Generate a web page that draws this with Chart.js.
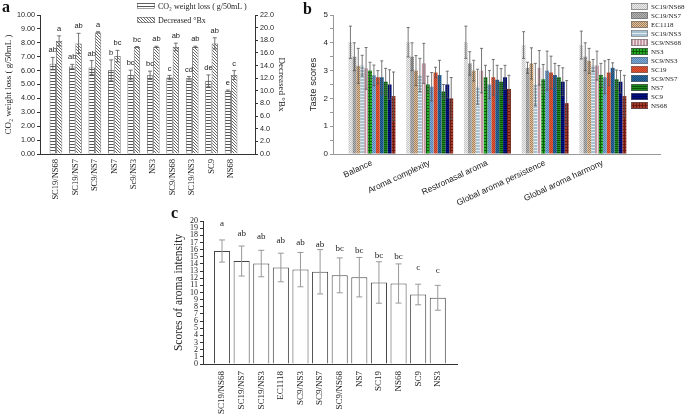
<!DOCTYPE html>
<html lang="en">
<head>
<meta charset="UTF-8">
<title>Fermentation kinetics and sensory scores</title>
<script src="https://cdn.jsdelivr.net/npm/chart.js@4.4.0/dist/chart.umd.min.js"></script>
<style>
    body {
        margin: 0;
        width: 685px;
        height: 419px;
        position: relative;
        overflow: hidden;
        background: #fff;
    }
    canvas {
        position: absolute;
    }
    .tag {
        position: absolute;
        font-family: 'Liberation Serif', serif;
        font-weight: bold;
        font-size: 16px;
        color: #111;
    }
</style>
</head>
<body>
<canvas id="chart-a" style="left:0;top:0" width="290" height="210"></canvas>
<canvas id="chart-b" style="left:300px;top:0" width="385" height="215"></canvas>
<canvas id="chart-c" style="left:165px;top:207px" width="300" height="212"></canvas>
<div class="tag" style="left:2px;top:-2px">a</div>
<div class="tag" style="left:303px;top:0">b</div>
<div class="tag" style="left:171px;top:204px">c</div>

<script>
// --- panel a: CO2 weight loss and decreased Brix ---
const strainsA = ['SC19/NS68', 'SC19/NS7', 'SC9/NS7', 'NS7', 'Sc9/NS3', 'NS3', 'SC9/NS68', 'SC19/NS3', 'SC9', 'NS68'];
const co2Loss = [6.50, 6.30, 6.22, 6.02, 5.68, 5.66, 5.50, 5.45, 5.27, 4.55];
const co2Err = [0.45, 0.15, 0.50, 0.75, 0.35, 0.30, 0.15, 0.12, 0.42, 0.05];
const co2Letters = ['ab', 'ab', 'ab', 'b', 'bc', 'bc', 'c', 'cd', 'de', 'e'];
const brixDrop = [17.9, 17.5, 19.25, 15.5, 16.95, 16.95, 16.95, 16.95, 17.5, 12.5];
const brixErr = [0.8, 1.6, 0.1, 0.9, 0.05, 0.1, 0.6, 0.1, 0.9, 0.7];
const brixLetters = ['a', 'ab', 'a', 'bc', 'bc', 'ab', 'ab', 'ab', 'ab', 'c'];
const co2Ticks = [0, 1, 2, 3, 4, 5, 6, 7, 8, 9, 10];
const brixTicks = [0, 2, 4, 6, 8, 10, 12, 14, 16, 18, 20, 22];

// --- panel b: taste scores per attribute ---
const attributes = ['Balance', 'Aroma complexity', 'Restronasal aroma', 'Global aroma persistence', 'Global aroma harmony'];
const strainsB = ['SC19/NS68', 'SC19/NS7', 'EC1118', 'SC19/NS3', 'SC9/NS68', 'NS3', 'SC9/NS3', 'SC19', 'SC9/NS7', 'NS7', 'SC9', 'NS68'];
const balance     = [4.02, 3.50, 3.17, 3.18, 3.08, 3.00, 2.83, 2.76, 2.76, 2.60, 2.50, 2.08];
const complexity  = [4.02, 3.50, 3.00, 2.84, 3.26, 2.50, 2.42, 2.93, 2.84, 2.25, 2.50, 2.00];
const restronasal = [4.02, 3.26, 3.00, 2.42, 3.00, 2.76, 2.50, 2.76, 2.67, 2.60, 2.76, 2.34];
const persistence = [3.92, 3.10, 3.26, 2.50, 3.10, 2.69, 3.00, 2.93, 2.84, 2.76, 2.60, 1.83];
const harmony     = [3.92, 3.50, 3.35, 3.18, 3.18, 2.84, 2.76, 2.93, 3.10, 2.69, 2.60, 2.08];
const balanceErr     = [0.58, 0.50, 0.63, 0.37, 0.75, 0.30, 0.37, 0.24, 0.59, 0.48, 0.53, 0.87];
const complexityErr  = [0.53, 0.50, 0.54, 0.60, 0.72, 0.30, 0.51, 0.19, 0.53, 0.25, 0.48, 0.75];
const restronasalErr = [0.58, 0.42, 0.37, 0.63, 0.80, 0.43, 0.50, 0.64, 0.52, 0.47, 0.43, 0.49];
const persistenceErr = [0.48, 0.20, 0.56, 0.76, 0.62, 0.53, 0.70, 0.59, 0.42, 0.42, 0.50, 0.81];
const harmonyErr     = [0.50, 0.50, 0.45, 0.22, 0.52, 0.42, 0.59, 0.47, 0.18, 0.33, 0.40, 0.75];
const tasteTicks = [0, 0.5, 1, 1.5, 2, 2.5, 3, 3.5, 4, 4.5, 5];

// --- panel c: aroma intensity ---
const strainsC = ['SC19/NS68', 'SC19/NS7', 'SC19/NS3', 'EC1118', 'SC9/NS3', 'SC9/NS7', 'SC9/NS68', 'NS7', 'SC19', 'NS68', 'SC9', 'NS3'];
const intensity = [15.8, 14.4, 14.05, 13.5, 13.2, 12.9, 12.4, 12.14, 11.4, 11.26, 9.72, 9.26];
const intensityErr = [1.55, 2.1, 1.85, 2.0, 2.4, 3.1, 2.44, 2.76, 2.9, 2.74, 1.44, 1.74];
const intensityLetters = ['a', 'ab', 'ab', 'ab', 'ab', 'ab', 'bc', 'bc', 'bc', 'bc', 'c', 'c'];
const intensityTicks = [0, 1, 2, 3, 4, 5, 6, 7, 8, 9, 10, 11, 12, 13, 14, 15, 16, 17, 18, 19, 20];

const SERIF = "'Liberation Serif', 'Times New Roman', serif";
const SANS = "'Liberation Sans', Arial, sans-serif";

Chart.defaults.animation = false;
Chart.defaults.responsive = false;
Chart.defaults.plugins.legend.display = false;
Chart.defaults.plugins.tooltip.enabled = false;
Chart.defaults.color = '#222';

// small hatch/check fills like the printed figure
function pattern(kind, bg, fg, step) {
    const c = document.createElement('canvas');
    c.width = c.height = step;
    const g = c.getContext('2d');
    g.fillStyle = bg;
    g.fillRect(0, 0, step, step);
    g.fillStyle = fg;
    if (kind === 'h') g.fillRect(0, 0, step, 1);
    else if (kind === 'v') g.fillRect(0, 0, 1, step);
    else if (kind === 'g') { g.fillRect(0, 0, step, 1); g.fillRect(0, 0, 1, step); }
    else if (kind === 'c') { const h = step / 2; g.fillRect(0, 0, h, h); g.fillRect(h, h, h, h); }
    else if (kind === 'd') { for (let i = 0; i < step; i++) g.fillRect(i, i, 1, 1); }
    return g.createPattern(c, 'repeat');
}

const points = arr => arr.map((v, i) => ({ x: i, y: v }));
const fixTicks = list => scale => { scale.ticks = list.map(v => ({ value: v })); };

// error bars from dataset.errors
function errorBars(color, width, cap) {
    return {
        id: 'errorBars',
        afterDatasetsDraw(chart) {
            const ctx = chart.ctx;
            ctx.save();
            ctx.strokeStyle = color;
            ctx.lineWidth = width;
            chart.data.datasets.forEach((ds, di) => {
                const meta = chart.getDatasetMeta(di);
                const scale = chart.scales[meta.yAxisID];
                meta.data.forEach((bar, i) => {
                    const v = ds.data[i].y, e = ds.errors[i];
                    const top = scale.getPixelForValue(v + e);
                    const bot = scale.getPixelForValue(v - e);
                    ctx.beginPath();
                    ctx.moveTo(bar.x, top); ctx.lineTo(bar.x, bot);
                    ctx.moveTo(bar.x - cap, top); ctx.lineTo(bar.x + cap, top);
                    ctx.moveTo(bar.x - cap, bot); ctx.lineTo(bar.x + cap, bot);
                    ctx.stroke();
                });
            });
            ctx.restore();
        }
    };
}

// significance letters; fromError: place above error cap, else above bar top
function letters(font, fromError, gap) {
    return {
        id: 'letters',
        afterDatasetsDraw(chart) {
            const ctx = chart.ctx;
            ctx.save();
            ctx.font = font;
            ctx.fillStyle = '#222';
            ctx.textAlign = 'center';
            ctx.textBaseline = 'middle';
            chart.data.datasets.forEach((ds, di) => {
                if (!ds.letters) return;
                const meta = chart.getDatasetMeta(di);
                const scale = chart.scales[meta.yAxisID];
                meta.data.forEach((bar, i) => {
                    const v = ds.data[i].y;
                    const y = fromError ? scale.getPixelForValue(v + ds.errors[i]) : bar.y;
                    ctx.fillText(ds.letters[i], bar.x, y - gap);
                });
            });
            ctx.restore();
        }
    };
}

// legend drawn at fixed spot, inside the canvas
function boxLegend(x, y, w, h, rowStep, font) {
    return {
        id: 'boxLegend',
        afterDraw(chart) {
            const ctx = chart.ctx;
            ctx.save();
            ctx.font = font;
            ctx.textBaseline = 'middle';
            chart.data.datasets.forEach((ds, i) => {
                const top = y + i * rowStep;
                ctx.fillStyle = ds.backgroundColor;
                ctx.fillRect(x, top, w, h);
                ctx.strokeStyle = '#666';
                ctx.lineWidth = 0.6;
                ctx.strokeRect(x + 0.5, top + 0.5, w - 1, h - 1);
                ctx.fillStyle = '#222';
                ctx.fillText(ds.label, x + w + 3, top + h / 2 + 0.5);
            });
            ctx.restore();
        }
    };
}

function yAxis(opts) {
    return {
        position: opts.position || 'left',
        min: opts.min,
        max: opts.max,
        afterBuildTicks: fixTicks(opts.ticks),
        afterFit: s => { s.width = opts.width; },
        ticks: { callback: opts.format, font: opts.tickFont, padding: 2, autoSkip: false },
        grid: { drawOnChartArea: false, tickLength: 3, color: opts.line },
        border: { display: true, color: opts.line },
        title: { display: true, text: opts.title, font: opts.titleFont, padding: { top: opts.titleGap, bottom: 2 } }
    };
}

// category positions on a linear axis so the side margins can be set freely
function xAxis(opts) {
    return {
        type: 'linear',
        offset: false,
        min: opts.min,
        max: opts.max,
        afterBuildTicks: fixTicks(opts.labels.map((_, i) => i)),
        afterFit: s => { s.height = opts.height; },
        grid: { display: false, drawTicks: false },
        border: { display: true, color: opts.line },
        ticks: {
            callback: (v, i) => opts.labels[i],
            minRotation: opts.rotation,
            maxRotation: opts.rotation,
            autoSkip: false,
            padding: opts.padding,
            font: opts.font
        }
    };
}

// panel a
new Chart(document.getElementById('chart-a'), {
    type: 'bar',
    data: {
        datasets: [
            {
                label: 'CO\u2082 weight loss ( g/50mL )',
                data: points(co2Loss), errors: co2Err, letters: co2Letters, yAxisID: 'y',
                backgroundColor: pattern('h', '#fff', '#555', 3), borderColor: '#444', borderWidth: 0.8
            },
            {
                label: 'Decreased \u00b0Bx',
                data: points(brixDrop), errors: brixErr, letters: brixLetters, yAxisID: 'y1',
                backgroundColor: pattern('d', '#fff', '#666', 3), borderColor: '#555', borderWidth: 0.8
            }
        ]
    },
    options: {
        layout: { autoPadding: false, padding: { top: 15 } },
        datasets: { bar: { categoryPercentage: 0.65, barPercentage: 1 } },
        scales: {
            x: xAxis({ min: -0.82, max: 10.23, labels: strainsA, height: 56, line: '#333', rotation: 90, padding: 5,
                       font: { family: SERIF, size: 8.5 } }),
            y: yAxis({ min: 0, max: 10, ticks: co2Ticks, width: 40, line: '#333', format: v => v.toFixed(2),
                       tickFont: { family: SANS, size: 7.2 }, title: 'CO\u2082 weight loss ( g/50mL )',
                       titleFont: { family: SERIF, size: 9 }, titleGap: 3 }),
            y1: yAxis({ position: 'right', min: 0, max: 22, ticks: brixTicks, width: 35, line: '#333',
                        format: v => v.toFixed(1), tickFont: { family: SANS, size: 7.2 },
                        title: 'Decreased \u00b0Bx', titleFont: { family: SERIF, size: 9 }, titleGap: 3 })
        }
    },
    plugins: [errorBars('#555', 0.8, 2), letters('7.5px ' + SANS, true, 7), boxLegend(137, 3, 18, 6, 14, '8px ' + SERIF)]
});

// panel b
const tasteByAttr = [balance, complexity, restronasal, persistence, harmony];
const tasteErrByAttr = [balanceErr, complexityErr, restronasalErr, persistenceErr, harmonyErr];
const strainFills = [
    ['c', '#ececec', '#c6c6c6', 2], ['c', '#b4b4b4', '#8a8a8a', 2], ['c', '#dcc0a0', '#a88058', 2],
    ['h', '#a6c2d0', '#e2ecf0', 3], ['v', '#c49aa6', '#ecdde1', 3], ['g', '#26b026', '#0b5c0b', 3],
    ['c', '#80aad4', '#5686b8', 2], ['c', '#e25c3a', '#c03a20', 2], ['c', '#2c6ca2', '#164a7a', 2],
    ['h', '#1f8a1f', '#0c560c', 2], ['h', '#001288', '#00065a', 2], ['g', '#a83c2a', '#6a1a10', 3]
];

new Chart(document.getElementById('chart-b'), {
    type: 'bar',
    data: {
        datasets: strainsB.map((name, s) => ({
            label: name,
            data: tasteByAttr.map((arr, i) => ({ x: i, y: arr[s] })),
            errors: tasteErrByAttr.map(arr => arr[s]),
            backgroundColor: pattern(...strainFills[s]),
            borderWidth: 0
        }))
    },
    options: {
        layout: { autoPadding: false, padding: { top: 15, right: 25 } },
        datasets: { bar: { categoryPercentage: 0.814, barPercentage: 1 } },
        scales: {
            x: xAxis({ min: -0.675, max: 4.99, labels: attributes, height: 61, line: '#999', rotation: 25, padding: 4,
                       font: { family: SANS, size: 8.5 } }),
            y: yAxis({ min: 0, max: 5, ticks: tasteTicks, width: 33, line: '#999',
                       format: v => Number.isInteger(v) ? v : '', tickFont: { family: SANS, size: 8 },
                       title: 'Taste scores', titleFont: { family: SANS, size: 9.5 }, titleGap: 8 })
        }
    },
    plugins: [errorBars('#555', 0.8, 1.5), boxLegend(331, 3, 17, 7, 9, '7px ' + SERIF)]
});

// panel c
new Chart(document.getElementById('chart-c'), {
    type: 'bar',
    data: {
        datasets: [{
            label: 'Scores of aroma intensity',
            data: points(intensity), errors: intensityErr, letters: intensityLetters,
            backgroundColor: '#fff', borderColor: '#444', borderWidth: 1
        }]
    },
    options: {
        layout: { autoPadding: false, padding: { top: 14, right: 8 } },
        datasets: { bar: { categoryPercentage: 0.82, barPercentage: 1 } },
        scales: {
            x: xAxis({ min: -0.97, max: 11.98, labels: strainsC, height: 55, line: '#333', rotation: 90, padding: 7,
                       font: { family: SERIF, size: 9 } }),
            y: yAxis({ min: 0, max: 20, ticks: intensityTicks, width: 38, line: '#333', format: v => v,
                       tickFont: { family: SERIF, size: 8 }, title: 'Scores of aroma intensity',
                       titleFont: { family: SERIF, size: 11.5 }, titleGap: 7 })
        }
    },
    plugins: [errorBars('#999', 1, 3), letters('9px ' + SERIF, false, 27)]
});
</script>
</body>
</html>
